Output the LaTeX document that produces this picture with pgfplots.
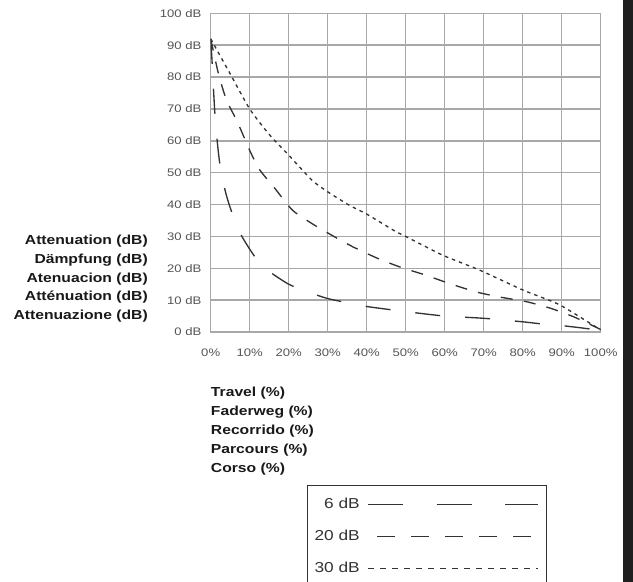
\documentclass[border=0pt]{standalone}
\usepackage{fontspec}
\setmainfont{Liberation Sans}[FakeStretch=1.2]
\usepackage{pgfplots}
\pgfplotsset{compat=1.18}
\definecolor{gridgray}{HTML}{A8A8A8}
\definecolor{ink}{HTML}{333333}
\definecolor{ticktext}{HTML}{555555}

\begin{document}
\begin{tikzpicture}[x=0.75pt,y=0.75pt]
\useasboundingbox (0,0) rectangle (633,582);
\clip (0,0) rectangle (633,582);
\fill[white] (0,0) rectangle (633,582);
\fill[black!88] (623,0) rectangle (633,582);

% multilingual axis titles
\foreach \t [count=\i from 0] in {Attenuation (dB),Dämpfung (dB),Atenuacion (dB),Atténuation (dB),Attenuazione (dB)}
  \node[anchor=base east, inner sep=0pt, text=black!90, font=\bfseries\fontsize{9.8}{12}\selectfont] at (148,337-18.6*\i) {\t};
\foreach \t [count=\i from 0] in {Travel (\%),Faderweg (\%),Recorrido (\%),Parcours (\%),Corso (\%)}
  \node[anchor=base west, inner sep=0pt, text=black!90, font=\bfseries\fontsize{9.8}{12}\selectfont] at (210.7,185-19*\i) {\t};

\begin{axis}[
    at={(158.025pt,187.5pt)}, anchor=south west,
    scale only axis, width=292.5pt, height=239pt,
    xmin=0, xmax=100, ymin=0, ymax=100,
    xtick={0,10,...,100}, ytick={0,10,...,100},
    xticklabels={0\%,10\%,20\%,30\%,40\%,50\%,60\%,70\%,80\%,90\%,100\%},
    yticklabels={0 dB,10 dB,20 dB,30 dB,40 dB,50 dB,60 dB,70 dB,80 dB,90 dB,100 dB},
    major tick length=0pt,
    grid=major,
    grid style={gridgray, line width=1.1pt},
    axis line style={gridgray, line width=1.1pt},
    tick label style={font=\fontsize{8.2}{9.8}\selectfont, text=ticktext},
    xticklabel style={anchor=center, inner sep=0pt, yshift=-15.75pt},
    yticklabel style={anchor=east, inner sep=0pt, xshift=-6.75pt},
    legend cell align=right, legend plot pos=right,
    legend image code/.code={\draw[#1] (0pt,-0.6pt) -- (127.5pt,-0.6pt);},
    legend style={at={(0.247,-0.480)}, anchor=north west, draw=ink, line width=0.75pt,
      fill=white, inner xsep=5.25pt, inner ysep=9.5pt, row sep=16pt, column sep=6pt,
      font=\fontsize{10.8}{13}\selectfont, text=ink,
      nodes={inner sep=0pt, text height=8pt, text depth=0pt}},
  ]
  % 6 dB
  \addplot[ink, line width=1pt, dash pattern=on 18.75pt off 18.75pt, smooth, tension=0.4, forget plot] coordinates {
    (0,92) (0.3,86) (0.6,79) (1,70) (1.5,62) (2.2,54) (3,48) (4,43) (5,39)
    (6.5,34) (8,30) (10,26) (12,22.5) (15,19) (20,15) (25,12.5) (30,10.5)
    (35,9.2) (40,8) (50,6.4) (60,5) (70,4.3) (80,3.2) (86.5,2.3) (90,2.0) (95,1.3) (100,0.5)
  };
  % 20 dB
  \addplot[ink, line width=1pt, dash pattern=on 9pt off 8.5pt, smooth, tension=0.4, forget plot] coordinates {
    (0,92) (2,81) (4,73) (7,65.5) (10,57) (12.5,51) (16.5,45) (21,38.2) (26,34)
    (31,30.4) (36.5,26.7) (43,23) (49,20.2) (55,17.9) (61,15.3) (68,12.6)
    (74,11) (81,9.5) (87,7.5) (93,4.8) (100,0.8)
  };
  % 30 dB
  \addplot[ink, line width=1pt, dash pattern=on 2.6pt off 3pt, smooth, tension=0.4, forget plot] coordinates {
    (0,92) (5,81) (10,70) (15,62) (20,55.5) (26,47.6) (30,44) (35.5,39.8) (40,37)
    (47.6,31.4) (50,30) (59.5,24.1) (69,19.4) (80,13.2) (89.5,8.5) (100,0.6)
  };

  \addlegendimage{ink, line width=1pt, dash pattern=on 26.25pt off 25pt}
  \addlegendentry{6 dB}
  \addlegendimage{ink, line width=1pt, dash pattern=on 13.5pt off 12pt, dash phase=18.75pt}
  \addlegendentry{20 dB}
  \addlegendimage{ink, line width=1pt, dash pattern=on 4.5pt off 4.5pt}
  \addlegendentry{30 dB}
  \addlegendimage{empty legend}
  \addlegendentry{}
\end{axis}
\end{tikzpicture}
\end{document}
